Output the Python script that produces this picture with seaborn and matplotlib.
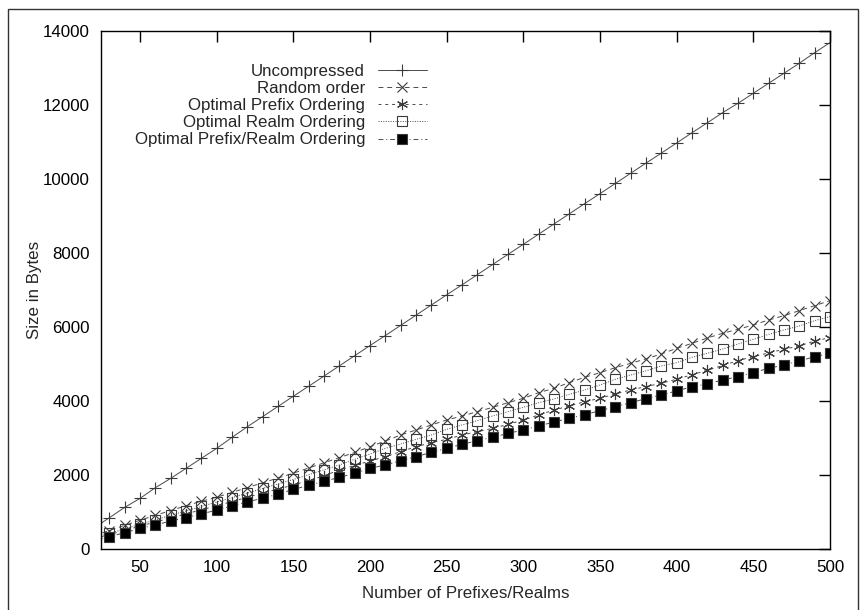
import pandas as pd
import seaborn as sns
import matplotlib.pyplot as plt
from matplotlib.patches import Rectangle

# Données (taille en octets)
prefixes = list(range(20, 510, 10))

uncompressed = [570, 847, 1126, 1369, 1658, 1910, 2180, 2451, 2721, 3018, 3306,
                3580, 3855, 4130, 4400, 4675, 4950, 5225, 5500, 5770, 6045,
                6320, 6595, 6870, 7140, 7415, 7690, 7965, 8235, 8510, 8785,
                9060, 9335, 9605, 9880, 10155, 10430, 10700, 10975, 11250, 11520,
                11794, 12047, 12317, 12588, 12858, 13128, 13415, 13686]
random_order = [360, 500, 640, 780, 910, 1040, 1170, 1290, 1400, 1530, 1660,
                1790, 1920, 2050, 2190, 2330, 2470, 2610, 2766, 2920, 3081,
                3217, 3352, 3487, 3595, 3712, 3829, 3955, 4073, 4226, 4343,
                4500, 4640, 4766, 4900, 5019, 5140, 5271, 5424, 5559, 5704,
                5830, 5938, 6055, 6190, 6307, 6442, 6577, 6712]
opt_prefix = [280, 390, 500, 620, 730, 840, 950, 1060, 1170, 1280, 1400,
              1510, 1620, 1730, 1850, 1980, 2135, 2260, 2379, 2496, 2631,
              2766, 2874, 2964, 3081, 3171, 3261, 3370, 3487, 3622, 3757,
              3865, 3982, 4073, 4190, 4298, 4390, 4480, 4590, 4710, 4830,
              4960, 5091, 5199, 5300, 5400, 5487, 5622, 5713]
opt_realm = [300, 420, 540, 670, 790, 910, 1030, 1150, 1270, 1390, 1510,
             1640, 1760, 1880, 2010, 2140, 2271, 2424, 2568, 2721, 2838,
             2964, 3081, 3235, 3352, 3469, 3595, 3712, 3829, 3955, 4055,
             4181, 4298, 4433, 4587, 4703, 4815, 4947, 5037, 5181, 5289,
             5406, 5541, 5667, 5802, 5920, 6028, 6172, 6280]
opt_prefix_realm = [230, 333, 441, 559, 649, 757, 847, 946, 1054, 1162, 1279,
                    1369, 1487, 1610, 1720, 1830, 1937, 2045, 2180, 2271, 2388,
                    2496, 2613, 2721, 2829, 2928, 3018, 3126, 3217, 3325, 3433,
                    3532, 3631, 3739, 3847, 3955, 4064, 4165, 4271, 4388, 4460,
                    4568, 4659, 4767, 4884, 4974, 5082, 5199, 5289]

series = [
    ('Uncompressed', uncompressed, dict(marker='+', linestyle='-', mfc='none', ms=8)),
    ('Random order', random_order, dict(marker='x', linestyle=(0, (5, 4)), mfc='none', ms=7)),
    ('Optimal Prefix Ordering', opt_prefix, dict(marker=(6, 2, 0), linestyle=(0, (3, 4)), mfc='none', ms=8)),
    ('Optimal Realm Ordering', opt_realm, dict(marker='s', linestyle=(0, (1, 1.5)), mfc='none', ms=6.5)),
    ('Optimal Prefix/Realm Ordering', opt_prefix_realm, dict(marker='s', linestyle=(0, (5, 3, 1, 3)), mfc='black', ms=7)),
]

FS = 12.2

sns.set_style('white')
plt.rcParams['font.family'] = ['Liberation Sans', 'DejaVu Sans']

fig = plt.figure(figsize=(8.64, 6.10), dpi=100)
ax = fig.add_axes([101 / 864, 1 - 549 / 610, (830 - 101) / 864, (549 - 31) / 610])

for name, values, style in series:
    df = pd.DataFrame({'x': prefixes, 'y': values})
    sns.lineplot(data=df, x='x', y='y', ax=ax, label=name, color='#4a4a4a',
                 linewidth=0.7, mec='#3a3a3a', mew=0.8, errorbar=None, **style)

ax.set_xlim(24.5, 500)
ax.set_ylim(0, 14000)
ax.set_xticks(range(50, 501, 50))
ax.set_yticks(range(0, 14001, 2000))
ax.tick_params(direction='in', length=8, width=1, top=True, right=True,
               labelsize=FS, colors='black', pad=8)
for spine in ax.spines.values():
    spine.set_color('black')
    spine.set_linewidth(1)

ax.set_xlabel('Number of Prefixes/Realms', fontsize=FS, labelpad=8)
ax.set_ylabel('Size in Bytes', fontsize=FS, labelpad=1)

leg = ax.legend(loc='upper right', bbox_to_anchor=(0.447, 0.937), markerfirst=False,
                frameon=False, fontsize=FS, handlelength=2.9, handletextpad=0.75,
                labelspacing=0.13, borderpad=0, borderaxespad=0)

# cadre autour de toute la figure
fig.add_artist(Rectangle((8 / 864, -0.05), (858 - 8) / 864, 1.05 - 9 / 610,
                         transform=fig.transFigure, fill=False, edgecolor='#333333',
                         linewidth=1))

plt.savefig('out.png', dpi=100)
plt.close()
